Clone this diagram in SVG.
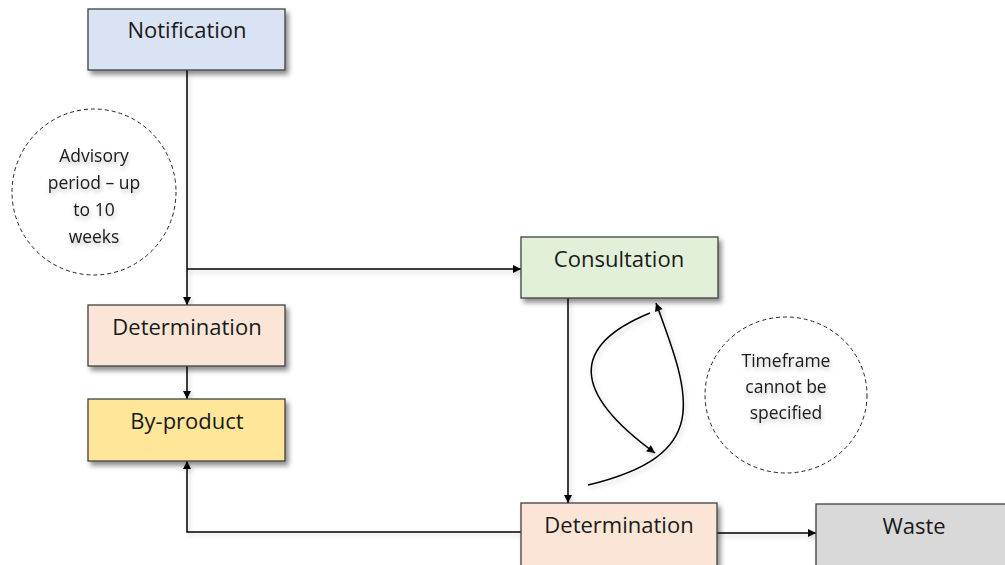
<svg xmlns="http://www.w3.org/2000/svg" width="1005" height="565" viewBox="0 0 1005 565">
<defs>
<filter id="sh" x="-20%" y="-20%" width="150%" height="160%">
<feDropShadow dx="3" dy="4" stdDeviation="2.5" flood-color="#000" flood-opacity="0.45"/>
</filter>
<filter id="lsh" x="-20%" y="-20%" width="150%" height="150%">
<feDropShadow dx="2" dy="3" stdDeviation="2" flood-color="#000" flood-opacity="0.18"/>
</filter>
<filter id="tsh" x="-20%" y="-30%" width="150%" height="180%">
<feDropShadow dx="1" dy="3" stdDeviation="2" flood-color="#000" flood-opacity="0.25"/>
</filter>
<marker id="ah" viewBox="0 0 10 10" refX="10" refY="5" markerWidth="9" markerHeight="8" markerUnits="userSpaceOnUse" orient="auto">
<path d="M0,0 L10,5 L0,10 z" fill="#000"/>
</marker>
</defs>
<style>
.box{stroke:#404040;stroke-width:1.3;filter:url(#sh)}
.bt{font-family:"Open Sans","Liberation Sans",sans-serif;font-size:22px;fill:#1a1a1a;text-anchor:middle}
.ct{font-family:"Open Sans","Liberation Sans",sans-serif;font-size:17.5px;fill:#1a1a1a;text-anchor:middle;filter:url(#tsh)}
.circ{fill:#fff;stroke:#222;stroke-width:1;stroke-dasharray:4 3}
.con{fill:none;stroke:#000;stroke-width:1.5}
</style>
<rect width="1005" height="565" fill="#fff"/>
<g id="connectors" filter="url(#lsh)">
<line class="con" x1="187" y1="70" x2="187" y2="305" marker-end="url(#ah)"/>
<line class="con" x1="187" y1="269" x2="521" y2="269" marker-end="url(#ah)"/>
<line class="con" x1="187" y1="366" x2="187" y2="399" marker-end="url(#ah)"/>
<line class="con" x1="568" y1="298" x2="568" y2="503" marker-end="url(#ah)"/>
<polyline class="con" points="521,532 187,532 187,461" marker-end="url(#ah)"/>
<line class="con" x1="717" y1="533" x2="816" y2="533" marker-end="url(#ah)"/>
<path class="con" d="M650,313 Q530,362 655,453" marker-end="url(#ah)"/>
<path class="con" d="M588,485 C712,455 692,400 656,303" marker-end="url(#ah)"/>
</g>
<g id="notification">
<rect class="box" x="88" y="9" width="197" height="61" fill="#dae3f3"/>
<text class="bt" x="187" y="38">Notification</text>
</g>
<g id="advisory">
<ellipse class="circ" cx="94" cy="192" rx="82" ry="83"/>
<text class="ct" x="94" y="162">Advisory</text>
<text class="ct" x="94" y="189">period – up</text>
<text class="ct" x="94" y="216">to 10</text>
<text class="ct" x="94" y="243">weeks</text>
</g>
<g id="determination1">
<rect class="box" x="88" y="305" width="197" height="61" fill="#fbe5d6"/>
<text class="bt" x="187" y="335">Determination</text>
</g>
<g id="byproduct">
<rect class="box" x="88" y="399" width="197" height="62" fill="#ffe699"/>
<text class="bt" x="187" y="429">By-product</text>
</g>
<g id="consultation">
<rect class="box" x="521" y="237" width="197" height="61" fill="#e2f0d9"/>
<text class="bt" x="619" y="267">Consultation</text>
</g>
<g id="timeframe">
<ellipse class="circ" cx="786" cy="395" rx="81" ry="78"/>
<text class="ct" x="786" y="367">Timeframe</text>
<text class="ct" x="786" y="393">cannot be</text>
<text class="ct" x="786" y="419">specified</text>
</g>
<g id="determination2">
<rect class="box" x="521" y="503" width="196" height="67" fill="#fbe5d6"/>
<text class="bt" x="619" y="533">Determination</text>
</g>
<g id="waste">
<rect class="box" x="816" y="504" width="196" height="66" fill="#d9d9d9"/>
<text class="bt" x="914" y="534">Waste</text>
</g>
</svg>
